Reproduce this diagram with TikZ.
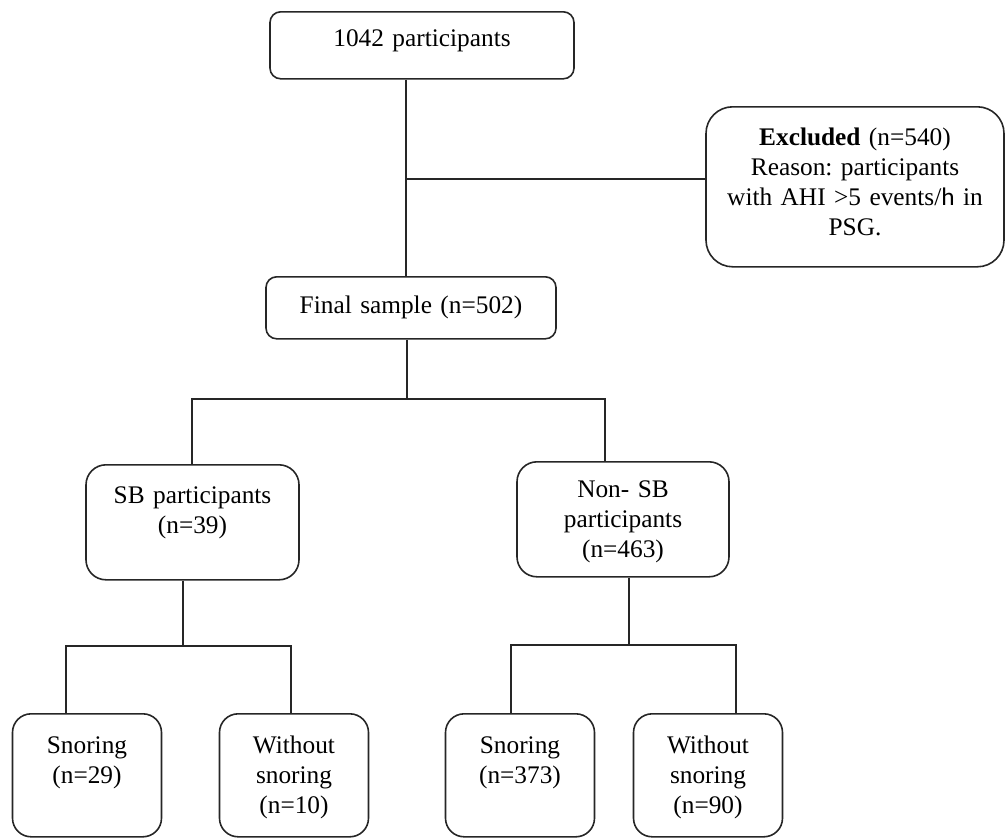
\documentclass[tikz,border=0pt]{standalone}
\usepackage{fontspec}
\setmainfont{Liberation Serif}
\newfontfamily\calibrifont{Carlito}
\frenchspacing
\usepackage{tikz}
\tikzset{
  box/.style={draw=black!85, line width=1.2pt, anchor=north, inner sep=0pt, align=center, font=\fontsize{19}{22.5}\selectfont},
  leaf/.style={box, rounded corners=14pt, text width=111.75pt, text height=30pt, text depth=62.25pt},
  link/.style={draw=black!85, line width=1.2pt}
}

\begin{document}
\begin{tikzpicture}[x=0.75pt, y=-0.75pt]
  \useasboundingbox (0,0) rectangle (1006,839);

  \node[box, rounded corners=8pt, text width=228pt, text height=26.25pt, text depth=24pt] (total) at (422,11) {1042 participants};
  \node[box, rounded corners=20pt, text width=223.5pt, text height=29.25pt, text depth=90.75pt] (excl) at (855,106)
    {\textbf{Excluded} (n=540)\\Reason: participants\\with AHI >5 events/{\calibrifont h} in\\PSG.};
  \node[box, rounded corners=8pt, text width=217.5pt, text height=27.75pt, text depth=18.75pt] (final) at (411,276) {Final sample (n=502)};
  \node[box, rounded corners=15pt, text width=159.75pt, text height=29.25pt, text depth=57pt] (sb) at (192.5,464) {SB participants\\(n=39)};
  \node[box, rounded corners=15pt, text width=159pt, text height=27pt, text depth=59.25pt] (nonsb) at (623,461) {Non- SB\\participants\\(n=463)};

  \node[leaf] (sbsnore) at (87,713) {Snoring\\(n=29)};
  \node[leaf] (sbquiet) at (294,713) {Without\\snoring\\(n=10)};
  \node[leaf] (nsbsnore) at (520,713) {Snoring\\(n=373)};
  \node[leaf] (nsbquiet) at (708,713) {Without\\snoring\\(n=90)};

  % junctions
  \coordinate (jexcl) at (406,179);
  \coordinate (jfin) at (407,399);
  \coordinate (jsbl) at (192,399);
  \coordinate (jsbr) at (605,399);
  \coordinate (jsb) at (183,646);
  \coordinate (jsbsl) at (66,646);
  \coordinate (jsbsr) at (291,646);
  \coordinate (jns) at (629,645);
  \coordinate (jnsl) at (511,645);
  \coordinate (jnsr) at (736,645);

  \draw[link] (total.south -| jexcl) -- (final.north -| jexcl);
  \draw[link] (jexcl) -- (excl.west |- jexcl);

  \draw[link] (final.south -| jfin) -- (jfin);
  \draw[link] (sb.north -| jsbl) -- (jsbl) -- (jsbr) -- (nonsb.north -| jsbr);

  \draw[link] (sb.south -| jsb) -- (jsb);
  \draw[link] (sbsnore.north -| jsbsl) -- (jsbsl) -- (jsbsr) -- (sbquiet.north -| jsbsr);

  \draw[link] (nonsb.south -| jns) -- (jns);
  \draw[link] (nsbsnore.north -| jnsl) -- (jnsl) -- (jnsr) -- (nsbquiet.north -| jnsr);
\end{tikzpicture}
\end{document}
